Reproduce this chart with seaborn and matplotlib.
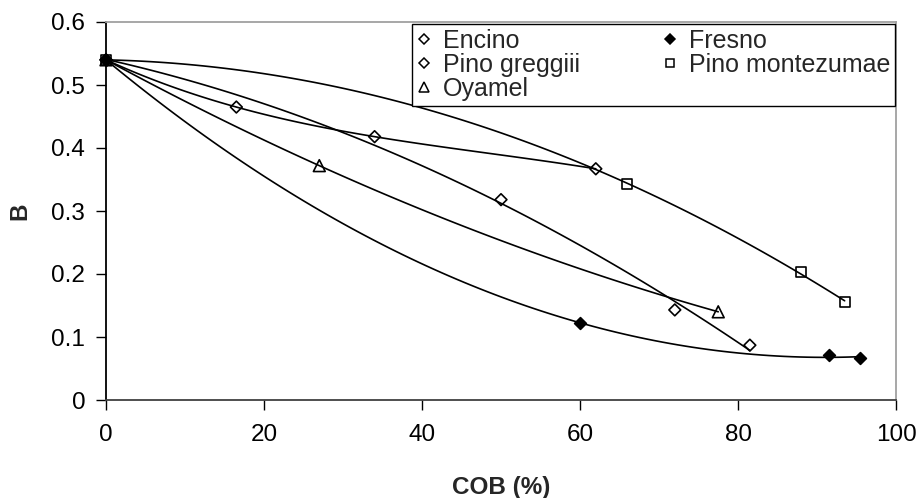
import numpy as np
import pandas as pd
import matplotlib
matplotlib.use("Agg")
import matplotlib.pyplot as plt
import seaborn as sns
from matplotlib.lines import Line2D

# ---- data ----
encino_x = [0, 16.5, 34, 62]
encino_y = [0.54, 0.465, 0.418, 0.367]
greggii_x = [0, 50, 72, 81.5]
greggii_y = [0.54, 0.318, 0.143, 0.087]
oyamel_x = [0, 27, 77.5]
oyamel_y = [0.54, 0.372, 0.140]
fresno_x = [0, 60, 91.5, 95.5]
fresno_y = [0.54, 0.122, 0.071, 0.066]
montez_x = [0, 66, 88, 93.5]
montez_y = [0.54, 0.343, 0.203, 0.155]

x_ticks = [0, 20, 40, 60, 80, 100]
y_ticks = [0, 0.1, 0.2, 0.3, 0.4, 0.5, 0.6]
y_tick_labels = ["0", "0.1", "0.2", "0.3", "0.4", "0.5", "0.6"]

sns.set_theme(style="white")
plt.rcParams["font.family"] = ["Liberation Sans", "DejaVu Sans"]

fig = plt.figure(figsize=(9.22, 4.98), dpi=100)
ax = fig.add_axes([106 / 922, 98 / 498, 790 / 922, 378 / 498])

# (label, x, y, trend order, marker, face, marker size)
series = [
    ("Encino", encino_x, encino_y, 3, "D", "none", 6.0),
    ("Pino greggiii", greggii_x, greggii_y, 2, "D", "none", 6.0),
    ("Oyamel", oyamel_x, oyamel_y, 2, "^", "none", 8.5),
    ("Fresno", fresno_x, fresno_y, 2, "D", "black", 6.0),
    ("Pino montezumae", montez_x, montez_y, 2, "s", "none", 7.2),
]

for name, xs, ys, order, mk, fc, ms in series:
    df = pd.DataFrame({"x": xs, "y": ys})
    sns.regplot(data=df, x="x", y="y", order=order, ci=None, scatter=False,
                truncate=True, ax=ax,
                line_kws=dict(color="black", lw=1.2, zorder=2))
for name, xs, ys, order, mk, fc, ms in series:
    df = pd.DataFrame({"x": xs, "y": ys})
    sns.scatterplot(data=df, x="x", y="y", marker=mk, s=ms ** 2,
                    facecolor=fc, edgecolor="black", linewidth=1.2,
                    ax=ax, zorder=3, clip_on=False)

ax.set_xlim(0, 100)
ax.set_ylim(0, 0.6)
ax.set_xticks(x_ticks)
ax.set_xticklabels([str(t) for t in x_ticks])
ax.set_yticks(y_ticks)
ax.set_yticklabels(y_tick_labels)
ax.tick_params(axis="x", direction="out", length=7, width=1,
               labelsize=17.5, colors="black", pad=10, bottom=True)
ax.tick_params(axis="y", direction="out", length=7, width=1,
               labelsize=17.5, colors="black", pad=8, left=True)

ax.set_xlabel("COB (%)", fontsize=17.5, fontweight="bold", labelpad=22)
ax.set_ylabel("B", fontsize=17.5, fontweight="bold", labelpad=14)

ax.spines["left"].set_color("black")
ax.spines["bottom"].set_color("#404040")
ax.spines["top"].set_color("#a0a0a0")
ax.spines["right"].set_color("#a0a0a0")
for s in ax.spines.values():
    s.set_linewidth(1.3)

handles = []
for name, xs, ys, order, mk, fc, ms in series:
    handles.append(Line2D([], [], linestyle="none", marker=mk,
                          markersize=ms * 0.85, markerfacecolor=fc,
                          markeredgecolor="black", markeredgewidth=1.1,
                          label=name))
leg = ax.legend(handles=handles, ncol=2, loc="upper right",
                bbox_to_anchor=(895 / 922, (498 - 24) / 498),
                bbox_transform=fig.transFigure, borderaxespad=0,
                fontsize=18, frameon=True, fancybox=False, framealpha=1,
                edgecolor="black", handlelength=0.6, handletextpad=0.45,
                columnspacing=3.3, labelspacing=0.0, borderpad=0.2)
leg.get_frame().set_linewidth(1.0)

fig.savefig("out.png", dpi=100)
